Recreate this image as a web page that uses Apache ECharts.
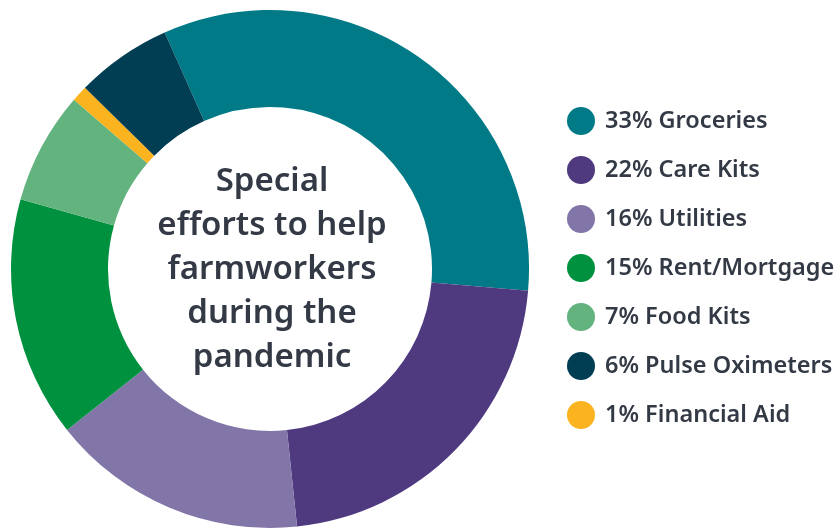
<!DOCTYPE html>
<html>
<head>
<meta charset="utf-8">
<script src="https://cdn.jsdelivr.net/npm/echarts@6/dist/echarts.min.js"></script>
<style>
html,body{margin:0;padding:0;background:#fff;}
#chart{width:836px;height:529px;}
</style>
</head>
<body>
<div id="chart"></div>
<script>
// Data (ring order, clockwise from top)
const categories = ['Groceries', 'Care Kits', 'Utilities', 'Rent/Mortgage', 'Food Kits', 'Financial Aid', 'Pulse Oximeters'];
const values = [33, 22, 16, 15, 7, 1, 6];
const colors = ['#007a87', '#4f3a80', '#8275a8', '#00913f', '#63b37f', '#fbb320', '#013e54'];
// Legend order as shown
const legendOrder = ['Groceries', 'Care Kits', 'Utilities', 'Rent/Mortgage', 'Food Kits', 'Pulse Oximeters', 'Financial Aid'];
const centerTitle = 'Special\nefforts to help\nfarmworkers\nduring the\npandemic';

const valueByName = {};
categories.forEach((c, i) => valueByName[c] = values[i]);

const chart = echarts.init(document.getElementById('chart'), null, {renderer: 'canvas'});
chart.setOption({
  animation: false,
  color: colors,
  legend: {
    orient: 'vertical',
    left: 562,
    top: 102,
    data: legendOrder,
    icon: 'circle',
    itemWidth: 28,
    itemHeight: 28,
    itemGap: 21,
    selectedMode: false,
    formatter: name => valueByName[name] + '% ' + name,
    textStyle: {
      fontFamily: 'Noto Sans',
      fontWeight: 600,
      fontSize: 23.5,
      color: '#333a45',
      padding: [0, 0, 0, 5]
    }
  },
  graphic: [{
    type: 'text',
    x: 272,
    y: 270,
    style: {
      text: centerTitle,
      textAlign: 'center',
      textVerticalAlign: 'middle',
      fontFamily: 'Noto Sans',
      fontWeight: 600,
      fontSize: 33,
      lineHeight: 44,
      fill: '#333a45'
    }
  }],
  series: [{
    type: 'pie',
    center: [270, 269],
    radius: [162, 259],
    startAngle: 114,
    clockwise: true,
    silent: true,
    label: {show: false},
    labelLine: {show: false},
    itemStyle: {borderWidth: 0},
    data: categories.map((c, i) => ({name: c, value: values[i]}))
  }]
});
</script>
</body>
</html>
